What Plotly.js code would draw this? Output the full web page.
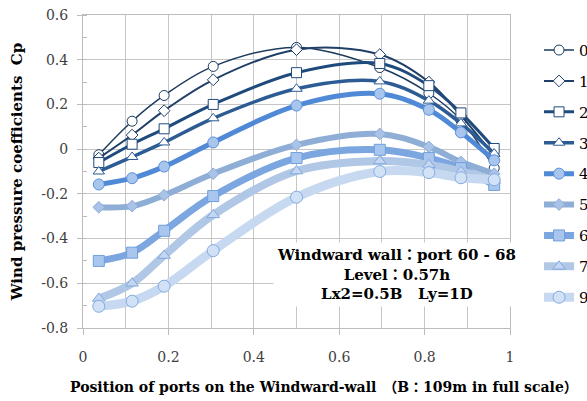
<!DOCTYPE html>
<html>
<head>
<meta charset="utf-8">
<script src="https://cdn.plot.ly/plotly-3.0.1.min.js"></script>
<style>
html,body{margin:0;padding:0;background:#fff;}
#chart{width:587px;height:401px;}
</style>
</head>
<body>
<div id="chart"></div>
<script>
// Port positions on the windward wall (normalised by B)
const positions = [0.037, 0.115, 0.19, 0.305, 0.5, 0.695, 0.81, 0.885, 0.963];

// Wind directions (legend labels)
const directions = ["0°", "11.25°", "22.5°", "33.75°", "45°", "56.25°", "67.5°", "78.75°", "90°"];

// Cp values per wind direction
const cp0    = [-0.025, 0.125, 0.24, 0.37, 0.455, 0.365, 0.25, 0.13, -0.085];
const cp1125 = [-0.04, 0.063, 0.172, 0.31, 0.445, 0.423, 0.30, 0.15, -0.03];
const cp225  = [-0.06, 0.022, 0.091, 0.20, 0.342, 0.383, 0.284, 0.162, 0.003];
const cp3375 = [-0.10, -0.035, 0.03, 0.138, 0.27, 0.303, 0.217, 0.115, -0.02];
const cp45   = [-0.158, -0.13, -0.078, 0.03, 0.195, 0.248, 0.176, 0.075, -0.05];
const cp5625 = [-0.26, -0.255, -0.206, -0.11, 0.019, 0.068, 0.01, -0.057, -0.11];
const cp675  = [-0.50, -0.463, -0.365, -0.21, -0.04, -0.003, -0.04, -0.085, -0.16];
const cp7875 = [-0.668, -0.60, -0.476, -0.294, -0.098, -0.053, -0.07, -0.10, -0.14];
const cp90   = [-0.703, -0.68, -0.613, -0.454, -0.215, -0.10, -0.105, -0.128, -0.137];

// Axis tick labels
const xTickVals = [0, 0.2, 0.4, 0.6, 0.8, 1];
const xTickText = ["0", "0.2", "0.4", "0.6", "0.8", "1"];
const yTickVals = [0.6, 0.4, 0.2, 0, -0.2, -0.4, -0.6, -0.8];
const yTickText = ["0.6", "0.4", "0.2", "0", "-0.2", "-0.4", "-0.6", "-0.8"];

const seriesValues = [cp0, cp1125, cp225, cp3375, cp45, cp5625, cp675, cp7875, cp90];

// styles
const styles = [
  {lc:"#1b3a5e", lw:1.5, sym:"circle",       ms:10, mf:"#ffffff", ml:"#1b3a5e"},
  {lc:"#1f3f68", lw:2,   sym:"diamond",      ms:9,  mf:"#ffffff", ml:"#1f3f68"},
  {lc:"#1f4a7c", lw:3,   sym:"square",       ms:10, mf:"#ffffff", ml:"#1f4a7c"},
  {lc:"#2d5b94", lw:3.5, sym:"triangle-up",  ms:10, mf:"#ffffff", ml:"#2d5b94"},
  {lc:"#5089d6", lw:5,   sym:"circle",       ms:11, mf:"#a8c5ee", ml:"#5b90da"},
  {lc:"#8eaed6", lw:6,   sym:"diamond",      ms:9,  mf:"#a9c3e8", ml:"#8eaed6"},
  {lc:"#7ba6e0", lw:7,   sym:"square",       ms:11, mf:"#a9c6ee", ml:"#6f9fdc"},
  {lc:"#b1c7e6", lw:8,   sym:"triangle-up",  ms:11, mf:"#c4d6f0", ml:"#7fa8e0"},
  {lc:"#c6d9f1", lw:9,   sym:"circle",       ms:12, mf:"#d2e2f6", ml:"#82aadf"}
];

const traces = seriesValues.map((vals, i) => ({
  type: "scatter",
  mode: "lines+markers",
  x: positions,
  y: vals,
  name: directions[i],
  legendgroup: "g" + i,
  line: {color: styles[i].lc, width: styles[i].lw, shape: "spline", smoothing: 1},
  marker: {symbol: styles[i].sym, size: styles[i].ms, color: styles[i].mf,
           line: {color: styles[i].ml, width: 1}},
  cliponaxis: false
}));

const serif = "DejaVu Serif, Liberation Serif, Noto Sans CJK JP, serif";

const layout = {
  width: 587, height: 401, autosize: false,
  margin: {l: 83, r: 77, t: 15, b: 73, pad: 0, autoexpand: false},
  paper_bgcolor: "#ffffff", plot_bgcolor: "#ffffff",
  showlegend: true,
  legend: {
    x: 1.068, xanchor: "left", y: 0.94, yanchor: "top",
    font: {family: serif, size: 15, color: "#000"},
    tracegroupgap: 8.4, itemwidth: 30, bgcolor: "rgba(0,0,0,0)"
  },
  xaxis: {
    range: [0, 1], tickvals: xTickVals, ticktext: xTickText,
    showgrid: true, gridcolor: "#c6c6c6", gridwidth: 1,
    minor: {dtick: 0.1, showgrid: true, gridcolor: "#c6c6c6", gridwidth: 1},
    ticks: "outside", ticklen: 6, tickcolor: "#bcbcbc",
    showline: true, linecolor: "#bcbcbc", linewidth: 1, mirror: true,
    zeroline: false, ticklabelstandoff: 10,
    tickfont: {family: serif, size: 14, color: "#404040"}
  },
  yaxis: {
    range: [-0.8, 0.6], tickvals: yTickVals, ticktext: yTickText,
    showgrid: true, gridcolor: "#c6c6c6", gridwidth: 1,
    minor: {dtick: 0.1, ticks: "inside", ticklen: 4, tickcolor: "#bcbcbc", showgrid: false},
    ticks: "outside", ticklen: 5, tickcolor: "#bcbcbc",
    showline: true, linecolor: "#bcbcbc", linewidth: 1, mirror: true,
    zeroline: false, ticklabelstandoff: 6,
    tickfont: {family: serif, size: 14, color: "#404040"},
    title: {text: "<b>Wind pressure coefficients\u00a0\u00a0Cp</b>", standoff: 14,
            font: {family: serif, size: 15, color: "#000"}}
  },
  annotations: [
    {
      xref: "paper", yref: "paper", x: 0.735, y: 0.17, xanchor: "center", yanchor: "middle",
      text: "<b>Windward wall：port 60 - 68</b><br><b>Level：0.57h</b><br><b>Lx2=0.5B\u00a0\u00a0\u00a0Ly=1D</b>",
      showarrow: false, align: "center", bgcolor: "#ffffff", borderpad: 3,
      font: {family: serif, size: 15, color: "#000"}
    },
    {
      xref: "paper", yref: "paper", x: -0.035, y: -0.188, xanchor: "left", yanchor: "middle",
      text: "<b>Position of ports on the Windward-wall\u3000（B：109m in full scale）</b>",
      showarrow: false, align: "left",
      font: {family: serif, size: 14, color: "#000"}
    }
  ]
};

Plotly.newPlot("chart", traces, layout, {displayModeBar: false, staticPlot: true});
</script>
</body>
</html>
